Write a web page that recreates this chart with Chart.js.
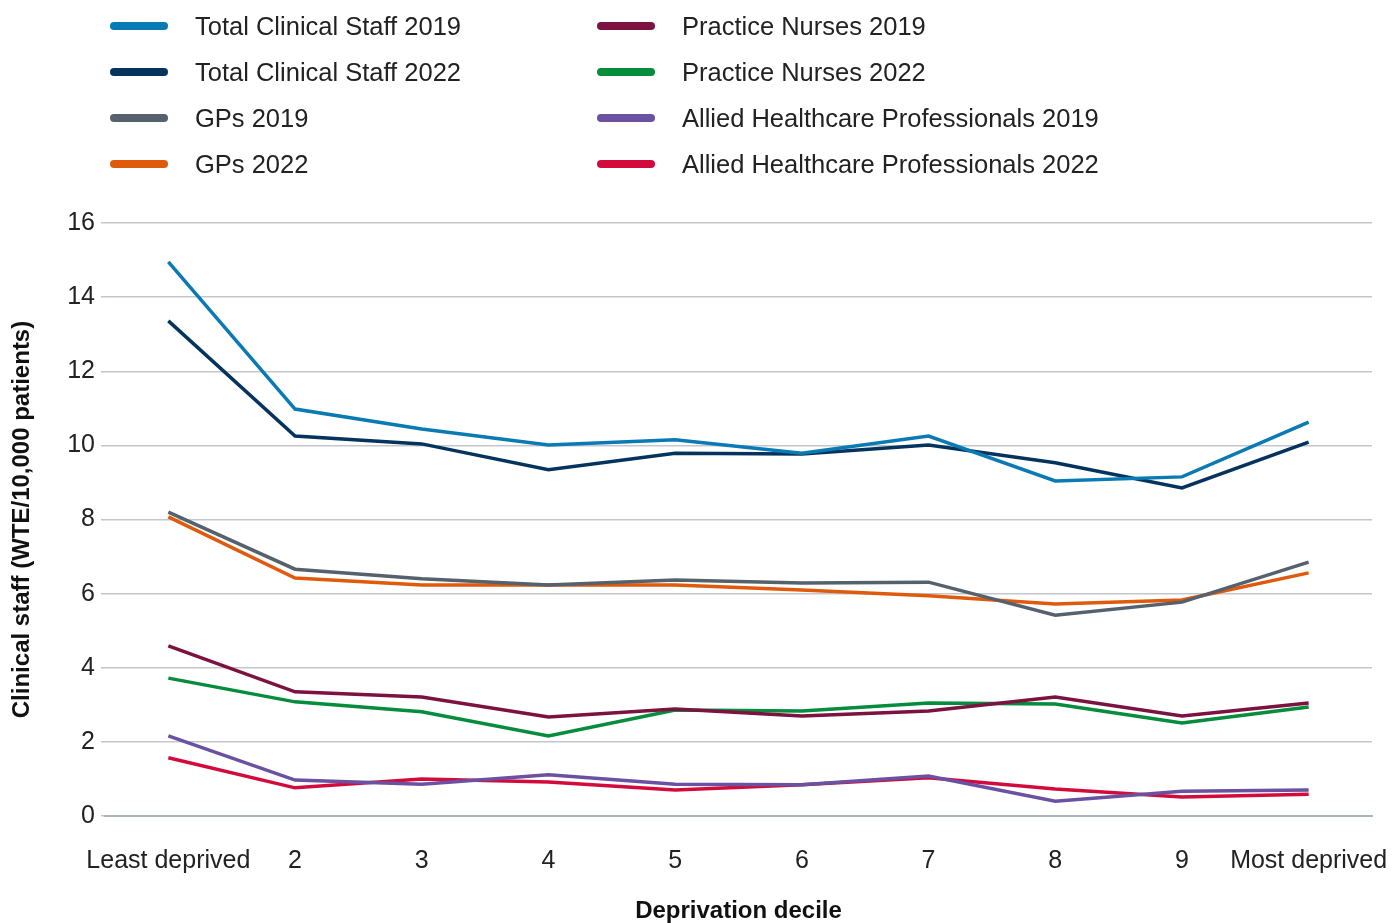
<!DOCTYPE html>
<html>
<head>
<meta charset="utf-8">
<script src="https://cdn.jsdelivr.net/npm/chart.js@4"></script>
<style>
  html, body { margin: 0; padding: 0; background: #fff; }
  #wrap { position: relative; width: 1395px; height: 923px; }
  #chart { position: absolute; left: 0; top: 0; }
  .leg { position: absolute; font-family: 'Liberation Sans', Arial, sans-serif; font-size: 25.5px; color: #222; }
  .leg .item { position: absolute; white-space: nowrap; height: 30px; line-height: 30px; }
  .leg .swatch { position: absolute; left: 0; top: 11px; width: 58px; height: 8px; border-radius: 4px; }
  .leg .lbl { position: absolute; left: 85px; top: 0; }
</style>
</head>
<body>
<div id="wrap">
  <canvas id="chart" width="1395" height="923"></canvas>
  <div id="legend"></div>
</div>
<script>
// ── Data ──────────────────────────────────────────────
const deciles = ['Least deprived', '2', '3', '4', '5', '6', '7', '8', '9', 'Most deprived'];

const totalStaff2019 = [14.95, 10.98, 10.44, 10.01, 10.15, 9.79, 10.25, 9.04, 9.15, 10.63];
const totalStaff2022 = [13.36, 10.25, 10.04, 9.34, 9.79, 9.77, 10.01, 9.53, 8.85, 10.09];
const gps2019 = [8.20, 6.66, 6.40, 6.23, 6.37, 6.29, 6.31, 5.42, 5.77, 6.85];
const gps2022 = [8.07, 6.42, 6.23, 6.23, 6.23, 6.10, 5.94, 5.72, 5.83, 6.56];
const nurses2019 = [4.59, 3.35, 3.21, 2.67, 2.89, 2.70, 2.83, 3.21, 2.70, 3.05];
const nurses2022 = [3.72, 3.08, 2.81, 2.16, 2.86, 2.83, 3.05, 3.02, 2.51, 2.94];
const ahp2019 = [2.16, 0.97, 0.86, 1.11, 0.86, 0.84, 1.08, 0.40, 0.67, 0.70];
const ahp2022 = [1.57, 0.76, 1.00, 0.92, 0.70, 0.84, 1.03, 0.73, 0.51, 0.59];

const yTicks = [0, 2, 4, 6, 8, 10, 12, 14, 16];

const series = [
    { label: 'Total Clinical Staff 2019', data: totalStaff2019, color: '#0a7ab5' },
    { label: 'Total Clinical Staff 2022', data: totalStaff2022, color: '#04345e' },
    { label: 'GPs 2019', data: gps2019, color: '#55616c' },
    { label: 'GPs 2022', data: gps2022, color: '#e05a0c' },
    { label: 'Practice Nurses 2019', data: nurses2019, color: '#7c1240' },
    { label: 'Practice Nurses 2022', data: nurses2022, color: '#058c3c' },
    { label: 'Allied Healthcare Professionals 2019', data: ahp2019, color: '#6a51a1' },
    { label: 'Allied Healthcare Professionals 2022', data: ahp2022, color: '#d30b3c' },
];

// ── Legend (two columns, four rows) ───────────────────
const legendEl = document.getElementById('legend');
legendEl.className = 'leg';
const legendCols = [110, 597];
const legendRows = [11, 57, 103, 149];
series.forEach((s, i) => {
    const col = Math.floor(i / 4), row = i % 4;
    const item = document.createElement('div');
    item.className = 'item';
    item.style.left = legendCols[col] + 'px';
    item.style.top = legendRows[row] + 'px';
    item.innerHTML = `<span class="swatch" style="background:${s.color}"></span><span class="lbl">${s.label}</span>`;
    legendEl.appendChild(item);
});

// ── Chart ─────────────────────────────────────────────
Chart.defaults.font.family = "'Liberation Sans', Arial, sans-serif";
Chart.defaults.color = '#222';

new Chart(document.getElementById('chart'), {
    type: 'line',
    data: {
        labels: deciles,
        datasets: series.map(s => ({
            label: s.label,
            data: s.data,
            borderColor: s.color,
            backgroundColor: s.color,
            borderWidth: 3.5,
            pointRadius: 0,
            tension: 0,
            fill: false,
        }))
    },
    options: {
        responsive: false,
        animation: false,
        layout: { padding: { top: 223, right: 23, left: 0, bottom: 0 } },
        plugins: { legend: { display: false }, tooltip: { enabled: false } },
        scales: {
            x: {
                offset: true,
                grid: { display: false, drawTicks: false },
                border: { display: true, color: '#a9b5c0', width: 2 },
                ticks: { font: { size: 25 }, color: '#222', padding: 30, maxRotation: 0, autoSkip: false },
                title: {
                    display: true, text: 'Deprivation decile', color: '#111',
                    font: { family: "'Liberation Sans Narrow', 'Liberation Sans', sans-serif", size: 24, weight: 'bold', lineHeight: 1 },
                    padding: { top: 0, bottom: 0 }
                },
                afterFit: scale => {
                    scale.height = 107;
                    // let the end labels overhang instead of shrinking the plot
                    scale.paddingLeft = 0;
                    scale.paddingRight = 0;
                }
            },
            y: {
                min: 0, max: 16,
                afterBuildTicks: scale => { scale.ticks = yTicks.map(v => ({ value: v })); },
                grid: { color: '#c3c7cc', lineWidth: 1.5, tickLength: 4 },
                border: { display: false },
                ticks: { font: { size: 25 }, color: '#222', padding: 6 },
                title: {
                    display: true, text: 'Clinical staff (WTE/10,000 patients)', color: '#111',
                    font: { family: "'Liberation Sans Narrow', 'Liberation Sans', sans-serif", size: 24, weight: 'bold', lineHeight: 1 },
                    padding: { top: 10, bottom: 0 }
                },
                afterFit: scale => { scale.width = 105; }
            }
        }
    }
});
</script>
</body>
</html>
